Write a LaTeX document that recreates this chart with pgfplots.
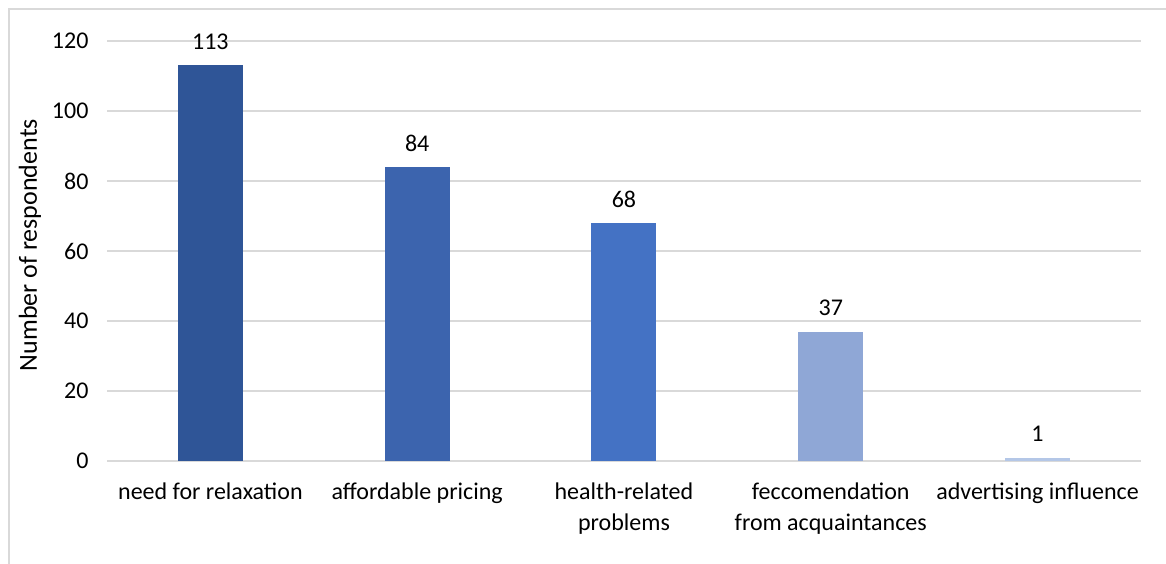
\documentclass[border=0pt]{standalone}
\usepackage{fontspec}
\setmainfont{Carlito}
\usepackage{pgfplots}
\pgfplotsset{compat=1.18}
\definecolor{c1}{HTML}{2F5597}
\definecolor{c2}{HTML}{3C64AE}
\definecolor{c3}{HTML}{4472C4}
\definecolor{c4}{HTML}{8FA7D6}
\definecolor{c5}{HTML}{B4C7E7}
\definecolor{gridc}{HTML}{D9D9D9}
\begin{document}
\begin{tikzpicture}[x=1pt,y=1pt, every node/.style={font=\fontsize{24}{31}\selectfont}]
\useasboundingbox (0,0) rectangle (1166,563);
\draw[gridc, line width=1.5pt] (9,-20) -- (9,554) -- (1200,554);
\begin{axis}[
  at={(107pt,102pt)}, anchor=south west,
  scale only axis, width=1034pt, height=420pt,
  ymin=0, ymax=120, ytick={0,20,...,120},
  xmin=-0.5, xmax=4.5,
  xtick={0,1,2,3,4},
  xticklabels={need for relaxation, affordable pricing, {health-related\\problems}, {feccomendation\\from acquaintances}, advertising influence},
  tick label style={font=\fontsize{24}{31}\selectfont},
  xticklabel style={align=center, yshift=-14pt},
  yticklabel style={xshift=-15pt},
  /pgf/number format/assume math mode=true,
  ymajorgrids, major grid style={gridc, line width=1.5pt},
  axis line style={draw=none},
  major tick style={draw=none},
  ybar, bar width=65pt,
  ylabel={Number of respondents},
  label style={font=\fontsize{26}{31}\selectfont},
  ylabel style={at={(axis description cs:-0.0745,0.514)}, anchor=center},
  nodes near coords, every node near coord/.append style={text=black, yshift=12pt, font=\fontsize{24}{31}\selectfont},
  clip=false,
]
\addplot[fill=c1, draw=none, bar shift=0pt] coordinates {(0,113)};
\addplot[fill=c2, draw=none, bar shift=0pt] coordinates {(1,84)};
\addplot[fill=c3, draw=none, bar shift=0pt] coordinates {(2,68)};
\addplot[fill=c4, draw=none, bar shift=0pt] coordinates {(3,37)};
\addplot[fill=c5, draw=none, bar shift=0pt] coordinates {(4,1)};
\end{axis}
\end{tikzpicture}
\end{document}
